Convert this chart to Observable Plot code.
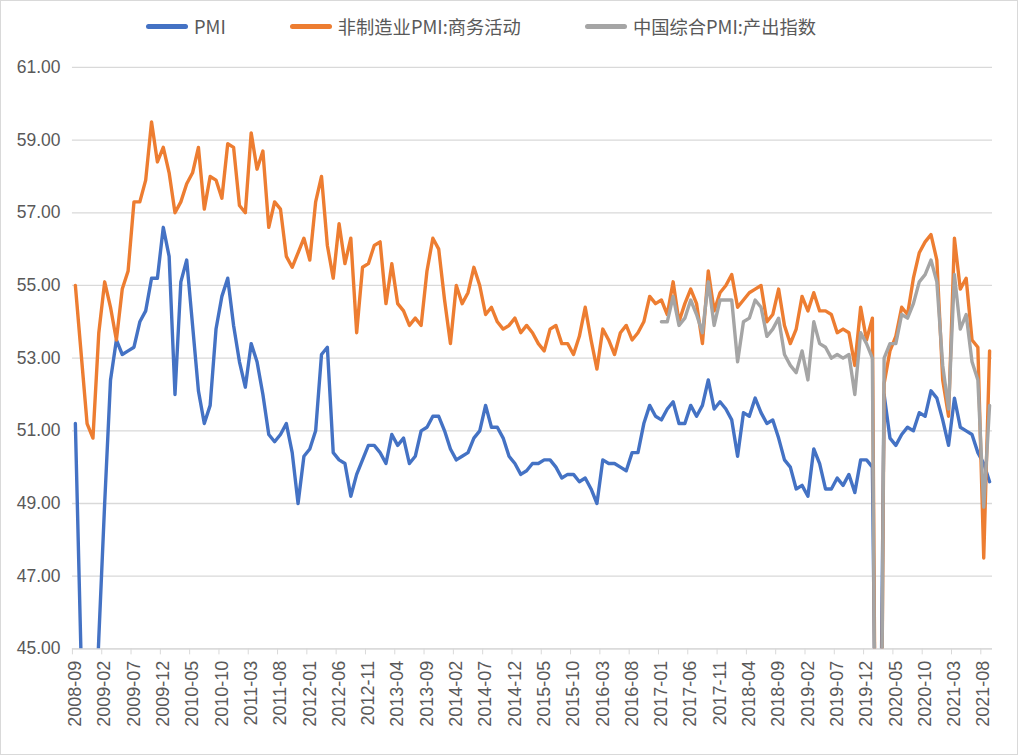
<!DOCTYPE html>
<html>
<head>
<meta charset="utf-8">
<script src="https://cdn.jsdelivr.net/npm/d3@7"></script>
<script src="https://cdn.jsdelivr.net/npm/@observablehq/plot@0.6"></script>
<style>
html, body { margin: 0; padding: 0; background: #fff; }
#wrap { position: relative; width: 1018px; height: 755px; box-sizing: border-box; border: 1px solid #d9d9d9; overflow: hidden; background: #fff; }
#chart { position: absolute; left: -1px; top: -1px; }
#legend { position: absolute; left: 145px; top: 13px; height: 24px; display: flex; align-items: center; gap: 64px;
  font-family: "Noto Sans CJK SC", "Liberation Sans", sans-serif; font-size: 18.3px; color: #595959; }
.item { display: flex; align-items: center; gap: 6px; white-space: nowrap; }
.sw { width: 42px; height: 5px; border-radius: 3px; }
</style>
</head>
<body>
<div id="wrap">
  <div id="chart"></div>
  <div id="legend"></div>
</div>
<script>
// ---- Data ----
const startYear = 2008, startMonth = 9;

const seriesNames = ["PMI", "非制造业PMI:商务活动", "中国综合PMI:产出指数"];
const seriesColors = ["#4472C4", "#ED7D31", "#A5A5A5"];

// 制造业PMI, 2008-09 .. 2021-09
const pmi = [
  51.2,44.6,38.8,41.2,
  45.3,49.0,52.4,53.5,53.1,53.2,53.3,54.0,54.3,55.2,55.2,56.6,
  55.8,52.0,55.1,55.7,53.9,52.1,51.2,51.7,53.8,54.7,55.2,53.9,
  52.9,52.2,53.4,52.9,52.0,50.9,50.7,50.9,51.2,50.4,49.0,50.3,
  50.5,51.0,53.1,53.3,50.4,50.2,50.1,49.2,49.8,50.2,50.6,50.6,
  50.4,50.1,50.9,50.6,50.8,50.1,50.3,51.0,51.1,51.4,51.4,51.0,
  50.5,50.2,50.3,50.4,50.8,51.0,51.7,51.1,51.1,50.8,50.3,50.1,
  49.8,49.9,50.1,50.1,50.2,50.2,50.0,49.7,49.8,49.8,49.6,49.7,
  49.4,49.0,50.2,50.1,50.1,50.0,49.9,50.4,50.4,51.2,51.7,51.4,
  51.3,51.6,51.8,51.2,51.2,51.7,51.4,51.7,52.4,51.6,51.8,51.6,
  51.3,50.3,51.5,51.4,51.9,51.5,51.2,51.3,50.8,50.2,50.0,49.4,
  49.5,49.2,50.5,50.1,49.4,49.4,49.7,49.5,49.8,49.3,50.2,50.2,
  50.0,35.7,52.0,50.8,50.6,50.9,51.1,51.0,51.5,51.4,52.1,51.9,
  51.3,50.6,51.9,51.1,51.0,50.9,50.4,50.1,49.6
];

// 非制造业PMI:商务活动, 2008-09 .. 2021-09
const nonMfg = [
  55.0,53.1,51.2,50.8,
  53.7,55.1,54.4,53.5,54.9,55.4,57.3,57.3,57.9,59.5,58.4,58.8,
  58.1,57.0,57.3,57.8,58.1,58.8,57.1,58.0,57.9,57.4,58.9,58.8,
  57.2,57.0,59.2,58.2,58.7,56.6,57.3,57.1,55.8,55.5,55.9,56.3,
  55.7,57.3,58.0,56.1,55.2,56.7,55.6,56.3,53.7,55.5,55.6,56.1,
  56.2,54.5,55.6,54.5,54.3,53.9,54.1,53.9,55.4,56.3,56.0,54.6,
  53.4,55.0,54.5,54.8,55.5,55.0,54.2,54.4,54.0,53.8,53.9,54.1,
  53.7,53.9,53.7,53.4,53.2,53.8,53.9,53.4,53.4,53.1,53.6,54.4,
  53.5,52.7,53.8,53.5,53.1,53.7,53.9,53.5,53.7,54.0,54.7,54.5,
  54.6,54.2,55.1,54.0,54.5,54.9,54.5,53.4,55.4,54.3,54.8,55.0,
  55.3,54.4,54.6,54.8,54.9,55.0,54.0,54.2,54.9,53.9,53.4,53.8,
  54.7,54.3,54.8,54.3,54.3,54.2,53.7,53.8,53.7,52.8,54.4,53.5,
  54.1,29.6,52.3,53.2,53.6,54.4,54.2,55.2,55.9,56.2,56.4,55.7,
  52.4,51.4,56.3,54.9,55.2,53.5,53.3,47.5,53.2
];

// 中国综合PMI:产出指数, 2017-01 .. 2021-09
const compositeStart = "2017-01";
const composite = [
  54.0,54.0,54.7,53.9,54.1,54.6,54.2,53.7,55.1,53.9,54.6,54.6,
  54.6,52.9,54.0,54.1,54.6,54.4,53.6,53.8,54.1,53.1,52.8,52.6,
  53.2,52.4,54.0,53.4,53.3,53.0,53.1,53.0,53.1,52.0,53.7,53.4,
  53.0,28.9,53.0,53.4,53.4,54.2,54.1,54.5,55.1,55.3,55.7,55.1,
  52.8,51.6,55.3,53.8,54.2,52.9,52.4,48.9,51.7
];

const yTicks = [45, 47, 49, 51, 53, 55, 57, 59, 61];
const labelEvery = 5;

// ---- Build ----
const months = pmi.map((_, k) => {
  const t = startMonth - 1 + k;
  const y = startYear + Math.floor(t / 12);
  const m = (t % 12) + 1;
  return `${y}-${String(m).padStart(2, "0")}`;
});
const compOffset = months.indexOf(compositeStart);

const rows = [];
months.forEach((m, i) => {
  rows.push({series: seriesNames[0], i, v: pmi[i]});
  rows.push({series: seriesNames[1], i, v: nonMfg[i]});
  const c = i - compOffset;
  rows.push({series: seriesNames[2], i, v: (c >= 0 && c < composite.length) ? composite[c] : null});
});

const labelIdx = months.map((_, i) => i).filter(i => i % labelEvery === 0);
const boundaries = labelIdx.map(i => i - 0.5);

const lineOpts = (k) => ({
  filter: d => d.series === seriesNames[k],
  x: "i", y: "v",
  stroke: seriesColors[k], strokeWidth: 3.4,
  strokeLinejoin: "round", strokeLinecap: "round",
  clip: true
});

const chart = Plot.plot({
  width: 1018,
  height: 755,
  marginLeft: 72,
  marginRight: 25,
  marginTop: 67,
  marginBottom: 106,
  style: {fontFamily: "'Liberation Sans', Arial, sans-serif", fontSize: "17.5px", color: "#595959", background: "transparent"},
  x: {type: "linear", domain: [-0.5, months.length - 0.5], label: null},
  y: {domain: [45, 61], label: null},
  marks: [
    Plot.gridY(yTicks, {stroke: "#d9d9d9", strokeOpacity: 1, strokeWidth: 1.3}),
    Plot.ruleY([45], {stroke: "#d9d9d9", strokeWidth: 1.3}),
    Plot.axisY(yTicks, {tickSize: 0, tickPadding: 12, tickFormat: d => d.toFixed(2), label: null, fill: "#595959", fontSize: 17.5}),
    Plot.axisX(boundaries, {tickSize: 6, tickFormat: () => "", stroke: "#d9d9d9", strokeOpacity: 1, label: null}),
    Plot.axisX(labelIdx, {tickSize: 0, tickPadding: 12, tickRotate: -90, tickFormat: i => months[i], label: null, fill: "#595959", fontSize: 18}),
    Plot.lineY(rows, lineOpts(0)),
    Plot.lineY(rows, lineOpts(1)),
    Plot.lineY(rows, lineOpts(2))
  ]
});
document.getElementById("chart").appendChild(chart);

// ---- Legend ----
const legend = document.getElementById("legend");
seriesNames.forEach((name, k) => {
  const item = document.createElement("div");
  item.className = "item";
  const sw = document.createElement("span");
  sw.className = "sw";
  sw.style.background = seriesColors[k];
  const label = document.createElement("span");
  label.textContent = name;
  item.appendChild(sw);
  item.appendChild(label);
  legend.appendChild(item);
});
</script>
</body>
</html>
